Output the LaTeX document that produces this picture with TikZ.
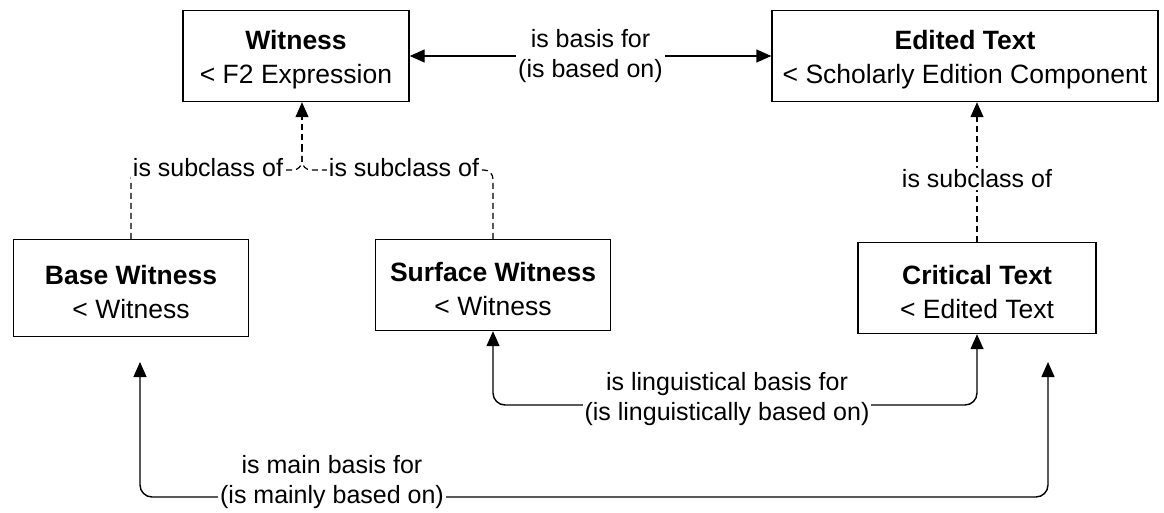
\documentclass[tikz,border=0pt]{standalone}
\usepackage{fontspec}
\setmainfont{Liberation Sans}
\usetikzlibrary{arrows.meta,calc}
\begin{document}
\begin{tikzpicture}[x=1pt,y=-1pt,
  cls/.style={draw,line width=1.4pt,inner sep=0pt},
  clstext/.style={align=center,inner sep=0pt,yshift=-4pt,
    font=\fontsize{26.5}{34}\selectfont},
  lbl/.style={fill=white,align=center,inner sep=2pt,
    font=\fontsize{25}{30}\selectfont},
  tip/.style={-{Triangle[length=15pt,width=13pt]}},
  both/.style={{Triangle[length=15pt,width=13pt]}-{Triangle[length=15pt,width=13pt]}},
  rel/.style={line width=1.4pt,rounded corners=12pt},
  sub/.style={line width=1.2pt,dash pattern=on 6pt off 4pt,rounded corners=9pt}]
\useasboundingbox (0,0) rectangle (1164,513);

% classes
\node[cls,minimum width=226pt,minimum height=91pt,
  label={[clstext,name=wT]center:\textbf{Witness}\\< F2 Expression}] (w) at (296,56) {};
\node[cls,minimum width=386pt,minimum height=91pt,
  label={[clstext,name=etT]center:\textbf{Edited Text}\\< Scholarly Edition Component}] (et) at (965,56) {};
\node[cls,minimum width=235pt,minimum height=97pt,
  label={[clstext,name=bwT]center:\textbf{Base Witness}\\< Witness}] (bw) at (131,288) {};
\node[cls,minimum width=235pt,minimum height=91pt,
  label={[clstext,name=swT]center:\textbf{Surface Witness}\\< Witness}] (sw) at (493,285) {};
\node[cls,minimum width=238pt,minimum height=91pt,
  label={[clstext,name=ctT]center:\textbf{Critical Text}\\< Edited Text}] (ct) at (977,288) {};

% helper coordinates
\coordinate (jn) at (302,170);
\coordinate (jnUp) at (302,150);
\coordinate (bwEnd) at (140,362);
\coordinate (ctEnd) at (1048,362);
\coordinate (mainY) at (0,497);
\coordinate (lingY) at (0,405);

% is basis for
\draw[both,line width=1.4pt] (w.east) -- (et.west)
  node[lbl,midway] (basis) {is basis for\\(is based on)};

% subclass relations into Witness, merging below it
\draw[sub] (bw.north) |- (jn) -- (jnUp);
\draw[sub] (sw.north) |- (jn) -- (jnUp);
\draw[sub,tip] (jnUp) -- (w.south -| jn);
\node[lbl] (subA) at (208,168) {is subclass of};
\node[lbl] (subB) at (404,168) {is subclass of};

% Critical Text into Edited Text
\draw[sub,tip] (ct.north) -- (et.south -| ct.north)
  node[lbl,pos=0.45] (subC) {is subclass of};

% linguistical basis
\draw[rel,both] (sw.south) |- (ct.south |- lingY) -- (ct.south);
\node[lbl] (ling) at (727,399)
  {is linguistical basis for\\(is linguistically based on)};

% main basis
\draw[rel,both] (bwEnd) |- (ctEnd |- mainY) -- (ctEnd);
\node[lbl] (mainb) at (332,482)
  {is main basis for\\(is mainly based on)};
\end{tikzpicture}
\end{document}
